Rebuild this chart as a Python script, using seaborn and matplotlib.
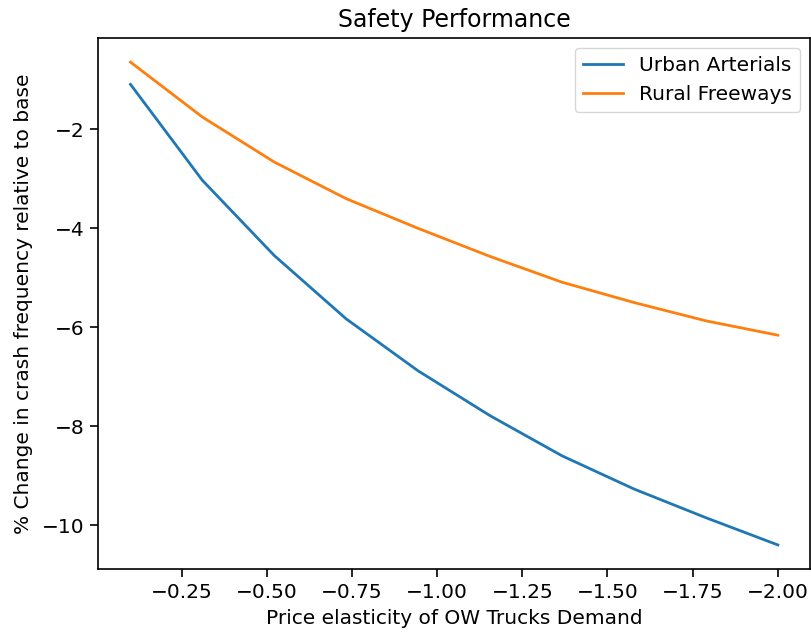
import numpy as np
import pandas as pd
import matplotlib
matplotlib.use('Agg')
import matplotlib.pyplot as plt
import seaborn as sns

# price elasticity values (x axis, shown inverted)
elasticity = [-0.1, -0.311, -0.522, -0.733, -0.944, -1.156, -1.367, -1.578, -1.789, -2.0]
urban_arterials = [-1.09, -3.03, -4.55, -5.83, -6.88, -7.79, -8.60, -9.27, -9.85, -10.40]
rural_freeways = [-0.64, -1.75, -2.66, -3.40, -4.00, -4.57, -5.09, -5.50, -5.87, -6.16]

df = pd.DataFrame({
    'elasticity': elasticity * 2,
    'change': urban_arterials + rural_freeways,
    'road': ['Urban Arterials'] * len(elasticity) + ['Rural Freeways'] * len(elasticity),
})

fs = 14.5
plt.rcParams['font.family'] = ['DejaVu Sans']
fig, ax = plt.subplots(figsize=(8.11, 6.33), dpi=100)
fig.subplots_adjust(left=0.121, right=0.999, top=0.940, bottom=0.101)

sns.lineplot(data=df, x='elasticity', y='change', hue='road',
             palette=['#1f77b4', '#ff7f0e'], linewidth=2.0, ax=ax)

ax.invert_xaxis()
ax.set_title('Safety Performance', fontsize=fs + 2.5, pad=8)
ax.set_xlabel('Price elasticity of OW Trucks Demand', fontsize=fs, labelpad=5)
ax.set_ylabel('% Change in crash frequency relative to base', fontsize=fs, labelpad=6)
ax.tick_params(labelsize=fs, width=1.2, length=5.5, pad=4.5)
for sp in ax.spines.values():
    sp.set_linewidth(1.2)

h, l = ax.get_legend_handles_labels()
ax.legend(h, l, loc='upper right', fontsize=fs)

fig.savefig('out.png', dpi=100)
